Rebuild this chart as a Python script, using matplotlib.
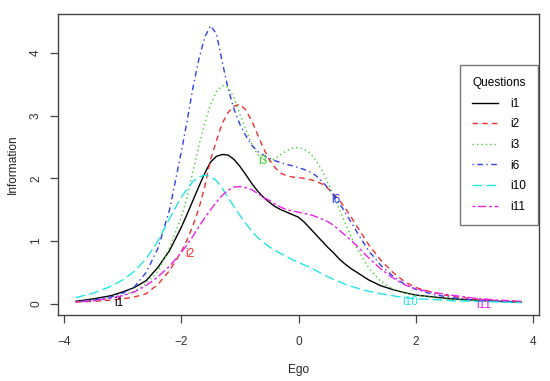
import matplotlib
matplotlib.use("Agg")
import matplotlib.pyplot as plt

plt.rcParams['font.family'] = ['Liberation Sans', 'DejaVu Sans']

# Ego grid (theta) at which values were read
ego = [-3.8, -3.5, -3.2, -3.0, -2.8, -2.6, -2.4, -2.2, -2.0, -1.9, -1.8, -1.7, -1.6, -1.5,
       -1.4, -1.3, -1.2, -1.1, -1.0, -0.9, -0.8, -0.7, -0.6, -0.5, -0.4, -0.3, -0.2, -0.1,
       0.0, 0.1, 0.2, 0.3, 0.4, 0.5, 0.6, 0.7, 0.8, 0.9, 1.0, 1.2, 1.4, 1.6, 1.8, 2.0,
       2.3, 2.6, 3.0, 3.4, 3.8]

i1 = [0.04, 0.08, 0.13, 0.19, 0.26, 0.37, 0.58, 0.85, 1.22, 1.43, 1.65, 1.87, 2.08, 2.26,
      2.35, 2.38, 2.37, 2.30, 2.19, 2.06, 1.92, 1.80, 1.70, 1.62, 1.55, 1.50, 1.46, 1.42,
      1.38, 1.30, 1.20, 1.10, 1.00, 0.90, 0.81, 0.71, 0.63, 0.56, 0.50, 0.38, 0.29, 0.23,
      0.18, 0.14, 0.11, 0.08, 0.06, 0.04, 0.03]

i2 = [0.03, 0.04, 0.06, 0.08, 0.11, 0.16, 0.31, 0.53, 0.83, 1.02, 1.25, 1.52, 1.87, 2.30,
      2.60, 2.88, 3.05, 3.15, 3.18, 3.09, 2.92, 2.70, 2.48, 2.30, 2.17, 2.08, 2.04, 2.02,
      2.01, 2.00, 1.98, 1.95, 1.91, 1.84, 1.75, 1.65, 1.52, 1.38, 1.23, 0.94, 0.70, 0.51,
      0.36, 0.26, 0.18, 0.12, 0.08, 0.05, 0.04]

i3 = [0.03, 0.06, 0.10, 0.14, 0.20, 0.32, 0.52, 0.90, 1.38, 1.70, 2.12, 2.52, 2.88, 3.18,
      3.38, 3.48, 3.45, 3.28, 3.02, 2.78, 2.55, 2.38, 2.29, 2.27, 2.31, 2.38, 2.44, 2.48,
      2.49, 2.46, 2.40, 2.28, 2.13, 1.93, 1.72, 1.50, 1.28, 1.06, 0.88, 0.57, 0.36, 0.24,
      0.18, 0.14, 0.10, 0.07, 0.05, 0.04, 0.03]

i6 = [0.03, 0.06, 0.11, 0.17, 0.27, 0.50, 0.88, 1.50, 2.42, 2.92, 3.45, 3.90, 4.25, 4.43,
      4.30, 3.85, 3.42, 3.10, 2.86, 2.68, 2.53, 2.43, 2.37, 2.32, 2.28, 2.25, 2.22, 2.20,
      2.17, 2.14, 2.10, 2.04, 1.95, 1.85, 1.73, 1.60, 1.45, 1.30, 1.14, 0.84, 0.62, 0.45,
      0.32, 0.23, 0.15, 0.10, 0.06, 0.04, 0.03]

i10 = [0.10, 0.17, 0.28, 0.38, 0.52, 0.72, 1.00, 1.36, 1.70, 1.83, 1.95, 2.02, 2.05, 2.03,
       1.96, 1.84, 1.69, 1.55, 1.41, 1.28, 1.16, 1.06, 0.98, 0.91, 0.85, 0.80, 0.75, 0.70,
       0.66, 0.62, 0.58, 0.53, 0.48, 0.43, 0.39, 0.35, 0.31, 0.28, 0.25, 0.20, 0.16, 0.13,
       0.10, 0.08, 0.07, 0.05, 0.04, 0.03, 0.02]

i11 = [0.03, 0.05, 0.09, 0.13, 0.19, 0.29, 0.43, 0.60, 0.82, 0.94, 1.08, 1.23, 1.37, 1.50,
       1.62, 1.73, 1.81, 1.86, 1.87, 1.85, 1.82, 1.76, 1.70, 1.65, 1.59, 1.54, 1.50, 1.48,
       1.46, 1.44, 1.42, 1.39, 1.35, 1.31, 1.25, 1.17, 1.09, 1.01, 0.92, 0.73, 0.56, 0.42,
       0.31, 0.24, 0.18, 0.14, 0.09, 0.06, 0.04]

items = ["i1", "i2", "i3", "i6", "i10", "i11"]
series = [i1, i2, i3, i6, i10, i11]
label_x = [-3.06, -1.86, -0.60, 0.63, 1.91, 3.16]
label_y = [0.02, 0.79, 2.27, 1.65, 0.03, -0.02]

colors = ["#000000", "#EE3030", "#44CC33", "#2E3FE8", "#22E6E6", "#EE22EE"]
dashes = [None, (4, 3), (1, 2.2), (1, 2.5, 4, 2.5), (7, 3), (2, 2, 6, 2)]

fig = plt.figure(figsize=(5.5, 3.81), dpi=100)
ax = fig.add_axes([58/550, 1-315/381, 481/550, 301/381])

for name, vals, c, d in zip(items, series, colors, dashes):
    ln, = ax.plot(ego, vals, color=c, lw=1.0, label=name)
    if d is not None:
        ln.set_dashes(d)

for name, lx, ly, c in zip(items, label_x, label_y, colors):
    ax.text(lx, ly, name, color=c, fontsize=8.6, ha='center', va='center')

ax.set_xlim(-4.104, 4.104)
ax.set_ylim(-0.1776, 4.6176)
ax.set_xticks([-4, -2, 0, 2, 4])
ax.set_yticks([0, 1, 2, 3, 4])
for s in ax.spines.values():
    s.set_color('#444444')
    s.set_linewidth(1.0)
ax.tick_params(axis='x', length=6, width=0.9, color='#444444', labelsize=8.6,
               labelcolor='#333333', pad=9)
ax.tick_params(axis='y', length=6, width=0.9, color='#444444', labelsize=8.6,
               labelcolor='#333333', pad=5.5)
for lab in ax.get_yticklabels():
    lab.set_rotation(90)
    lab.set_va('center')

ax.set_xlabel("Ego", fontsize=8.6, color='#222222', labelpad=12)
ax.set_ylabel("Information", fontsize=8.6, color='#222222', labelpad=8)

leg = ax.legend(title="Questions", loc='upper right', bbox_to_anchor=(0.998, 0.83),
                fontsize=8.6, title_fontsize=8.6, handlelength=2.2, labelspacing=0.72,
                borderpad=1.0, handletextpad=1.0, frameon=True, fancybox=False,
                borderaxespad=0.0)
leg.get_frame().set_edgecolor('#555555')
leg.get_frame().set_linewidth(1.0)

fig.savefig("out.png", dpi=100)
